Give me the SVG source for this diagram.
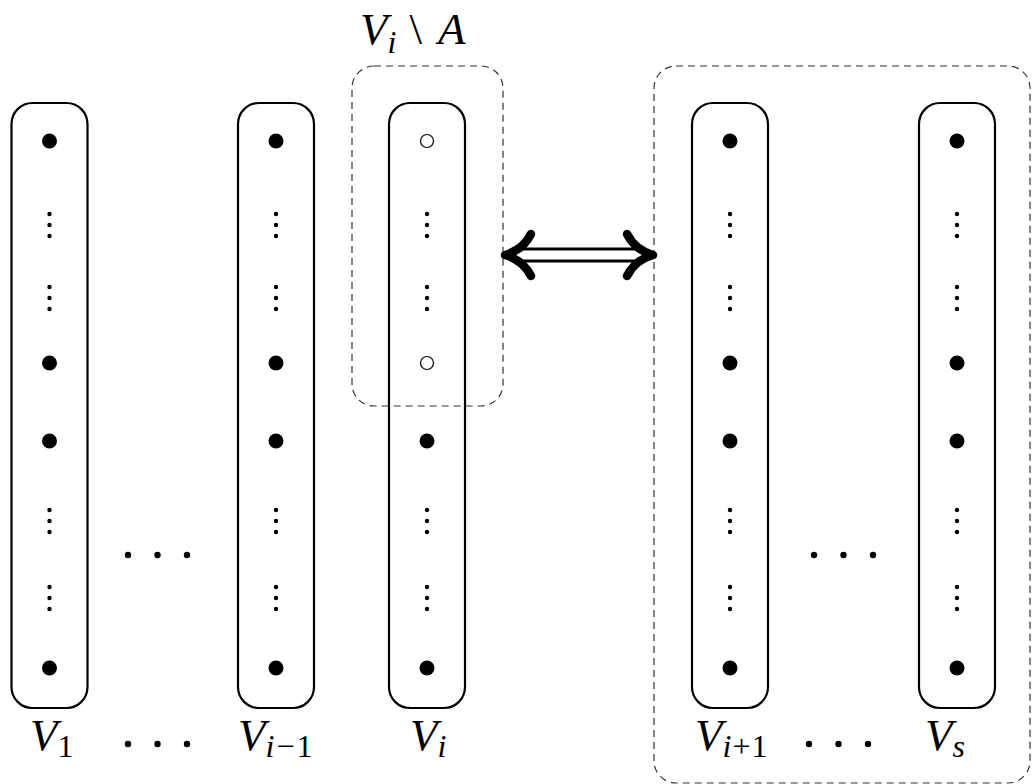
<svg xmlns="http://www.w3.org/2000/svg" width="1032" height="784" viewBox="0 0 1032 784">
<style>
.col{fill:none;stroke:#000;stroke-width:2.2}
.grp{fill:none;stroke:#333;stroke-width:1.2;stroke-dasharray:7 5}
.hol{fill:#fff;stroke:#000;stroke-width:1.2}
text{fill:#000;font-family:'Liberation Serif','Times New Roman',serif;font-size:45px}
.it{font-style:italic}
.sub{font-size:32px}
</style>
<defs>
<g id="vd"><circle cx="0" cy="-11" r="2.2"/><circle cx="0" cy="0" r="2.2"/><circle cx="0" cy="11" r="2.2"/></g>
<g id="column">
<rect x="-38" y="103" width="76" height="605" rx="21" class="col"/>
<use href="#vd" y="225"/><use href="#vd" y="298"/><use href="#vd" y="521"/><use href="#vd" y="598"/>
<circle cy="441" r="7.5"/><circle cy="668" r="7.5"/>
</g>
</defs>
<rect width="1032" height="784" fill="#fff"/>
<g id="V1"><use href="#column" x="49.5"/><circle cx="49.5" cy="141" r="7.5"/><circle cx="49.5" cy="363" r="7.5"/></g>
<g id="Vim1"><use href="#column" x="276"/><circle cx="276" cy="141" r="7.5"/><circle cx="276" cy="363" r="7.5"/></g>
<g id="Vi"><use href="#column" x="427"/><circle cx="427" cy="141" r="6.5" class="hol"/><circle cx="427" cy="363" r="6.5" class="hol"/></g>
<g id="Vip1"><use href="#column" x="730"/><circle cx="730" cy="141" r="7.5"/><circle cx="730" cy="363" r="7.5"/></g>
<g id="Vs"><use href="#column" x="957"/><circle cx="957" cy="141" r="7.5"/><circle cx="957" cy="363" r="7.5"/></g>
<g id="ViA"><rect x="352" y="66" width="151" height="340" rx="22" class="grp"/>
<text x="360" y="44"><tspan class="it">V</tspan><tspan class="it sub" dy="9">i</tspan><tspan dy="-9" dx="13">\</tspan><tspan class="it" dx="16">A</tspan></text></g>
<g id="Rest"><rect x="654" y="66" width="376" height="717" rx="22" class="grp"/></g>
<g id="ellipses">
<circle cx="128" cy="555" r="3.2"/><circle cx="157.5" cy="555" r="3.2"/><circle cx="187" cy="555" r="3.2"/>
<circle cx="128" cy="744" r="3.2"/><circle cx="157.5" cy="744" r="3.2"/><circle cx="187" cy="744" r="3.2"/>
<circle cx="814" cy="555" r="3.2"/><circle cx="843.5" cy="555" r="3.2"/><circle cx="873" cy="555" r="3.2"/>
<circle cx="809" cy="744" r="3.2"/><circle cx="838.5" cy="744" r="3.2"/><circle cx="868" cy="744" r="3.2"/>
</g>
<g id="labels">
<text x="30" y="750"><tspan class="it">V</tspan><tspan class="sub" dy="7">1</tspan></text>
<text x="238" y="750"><tspan class="it">V</tspan><tspan class="sub" dy="7"><tspan class="it">i</tspan><tspan dx="2">−</tspan><tspan dx="2">1</tspan></tspan></text>
<text x="410" y="750"><tspan class="it">V</tspan><tspan class="it sub" dy="7">i</tspan></text>
<text x="695" y="750"><tspan class="it">V</tspan><tspan class="sub" dy="7"><tspan class="it">i</tspan><tspan dx="1">+</tspan><tspan dx="1">1</tspan></tspan></text>
<text x="925" y="750"><tspan class="it">V</tspan><tspan class="it sub" dy="7">s</tspan></text>
</g>
<g id="connectors">
<line x1="512" y1="255" x2="646" y2="255" stroke="#000" stroke-width="15"/>
<line x1="514" y1="255" x2="644" y2="255" stroke="#fff" stroke-width="9"/>
<path d="M531,234 Q523,250 505,255 Q523,260 531,276" fill="none" stroke="#000" stroke-width="8.5" stroke-linecap="round" stroke-linejoin="round"/>
<path d="M627,234 Q635,250 653,255 Q635,260 627,276" fill="none" stroke="#000" stroke-width="8.5" stroke-linecap="round" stroke-linejoin="round"/>
</g>
</svg>
